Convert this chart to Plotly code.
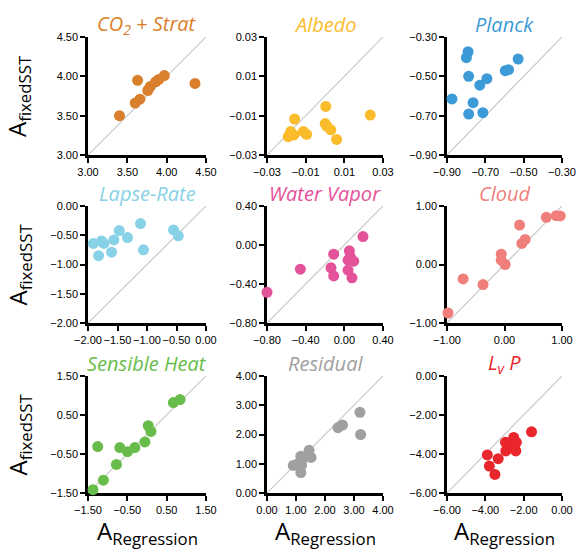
import plotly.graph_objects as go

# ---------------- data ----------------
titles = ["CO<sub>2</sub> + Strat", "Albedo", "Planck",
          "Lapse-Rate", "Water Vapor", "Cloud",
          "Sensible Heat", "Residual", "L<sub>v</sub> P"]
colors = ["#DA7F2C", "#FBBC2C", "#3C9BD6",
          "#87D2E6", "#E4529A", "#F07F7C",
          "#68BD4A", "#A0A0A0", "#E8262C"]

co2_x = [3.40, 3.60, 3.66, 3.63, 3.76, 3.79, 3.86, 3.90, 3.97, 4.36]
co2_y = [3.50, 3.66, 3.71, 3.95, 3.82, 3.87, 3.93, 3.96, 4.01, 3.91]

alb_x = [-0.0157, -0.0178, -0.0190, -0.0161, -0.0112, -0.0095, 0.0004, 0.0001, 0.0010, 0.0030, 0.0060, 0.0234]
alb_y = [-0.0117, -0.0181, -0.0207, -0.0198, -0.0181, -0.0195, -0.0053, -0.0140, -0.0155, -0.0172, -0.0221, -0.0097]

pl_x = [-0.874, -0.790, -0.799, -0.787, -0.764, -0.787, -0.729, -0.692, -0.713, -0.596, -0.579, -0.529]
pl_y = [-0.615, -0.375, -0.405, -0.500, -0.634, -0.692, -0.545, -0.512, -0.685, -0.471, -0.466, -0.412]

lr_x = [-1.91, -1.82, -1.77, -1.73, -1.60, -1.56, -1.47, -1.33, -1.11, -1.06, -0.55, -0.47]
lr_y = [-0.64, -0.85, -0.60, -0.64, -0.79, -0.58, -0.42, -0.54, -0.30, -0.75, -0.41, -0.51]

wv_x = [-0.80, -0.455, -0.138, -0.110, -0.110, 0.052, 0.038, 0.097, 0.038, 0.079, 0.193, 0.062]
wv_y = [-0.485, -0.248, -0.234, -0.317, -0.094, -0.060, -0.156, -0.166, -0.258, -0.337, 0.086, -0.121]

cl_x = [-0.983, -0.72, -0.373, -0.057, -0.057, 0.011, 0.262, 0.302, 0.359, 0.727, 0.898, 0.97]
cl_y = [-0.829, -0.246, -0.343, 0.177, 0.074, 0.0, 0.674, 0.36, 0.429, 0.806, 0.834, 0.83]

sh_x = [-1.372, -1.109, -1.253, -0.777, -0.691, -0.496, -0.309, -0.053, 0.032, 0.10, 0.67, 0.84]
sh_y = [-1.414, -1.172, -0.31, -0.767, -0.336, -0.44, -0.336, -0.19, 0.224, 0.078, 0.819, 0.897]

res_x = [0.906, 1.166, 1.19, 1.223, 1.166, 1.45, 1.518, 1.06, 2.446, 2.605, 3.205, 3.228]
res_y = [0.944, 1.257, 0.944, 1.15, 0.70, 1.46, 1.215, 1.0, 2.235, 2.324, 2.76, 2.0]

lvp_x = [-3.897, -3.79, -3.50, -3.33, -2.93, -2.95, -2.72, -2.52, -2.41, -2.38, -1.59]
lvp_y = [-4.05, -4.62, -5.05, -4.24, -3.84, -3.40, -3.49, -3.15, -3.84, -3.40, -2.86]

xs = [co2_x, alb_x, pl_x, lr_x, wv_x, cl_x, sh_x, res_x, lvp_x]
ys = [co2_y, alb_y, pl_y, lr_y, wv_y, cl_y, sh_y, res_y, lvp_y]

ticks = [
    [3.00, 3.50, 4.00, 4.50],
    [-0.03, -0.01, 0.01, 0.03],
    [-0.90, -0.70, -0.50, -0.30],
    [-2.00, -1.50, -1.00, -0.50, 0.00],
    [-0.80, -0.40, 0.00, 0.40],
    [-1.00, 0.00, 1.00],
    [-1.50, -0.50, 0.50, 1.50],
    [0.00, 1.00, 2.00, 3.00, 4.00],
    [-6.00, -4.00, -2.00, 0.00],
]
yticks = ticks

ylabel = "A<sub>fixedSST</sub>"
xlabel = "A<sub>Regression</sub>"

# ---------------- layout ----------------
W, H = 576, 549
col_px = [(88, 206), (267, 383), (447, 562)]
row_px = [(37, 155), (206, 323), (376, 493)]

fig = go.Figure()
layout = dict(width=W, height=H, margin=dict(l=0, r=0, t=0, b=0, autoexpand=False),
              plot_bgcolor="white", paper_bgcolor="white", showlegend=False)
annotations = []
tickfont = dict(family="Liberation Sans, Arial, sans-serif", size=11, color="black")

for i in range(9):
    r, c = divmod(i, 3)
    n = i + 1
    xa = "xaxis" if n == 1 else f"xaxis{n}"
    ya = "yaxis" if n == 1 else f"yaxis{n}"
    xr = "x" if n == 1 else f"x{n}"
    yr = "y" if n == 1 else f"y{n}"
    x0, x1 = col_px[c]
    y0, y1 = row_px[r]
    xt, yt = ticks[i], yticks[i]
    axcommon = dict(showgrid=False, zeroline=False, showline=True, linecolor="black",
                    linewidth=2.5, ticks="outside", ticklen=5, tickwidth=2,
                    tickcolor="black", tickfont=tickfont, layer="below traces",
                    tickformat=".2f", tickangle=0, automargin=False)
    layout[xa] = dict(axcommon, domain=[x0 / W, x1 / W], range=[xt[0], xt[-1]],
                      tickvals=xt, anchor=yr)
    layout[ya] = dict(axcommon, domain=[1 - y1 / H, 1 - y0 / H], range=[yt[0], yt[-1]],
                      tickvals=yt, anchor=xr)
    # 1:1 line
    fig.add_trace(go.Scatter(x=[xt[0], xt[-1]], y=[yt[0], yt[-1]], mode="lines",
                             line=dict(color="#C8C8C8", width=1.2), xaxis=xr, yaxis=yr,
                             hoverinfo="skip"))
    fig.add_trace(go.Scatter(x=xs[i], y=ys[i], mode="markers",
                             marker=dict(color=colors[i], size=11, line=dict(width=0)),
                             xaxis=xr, yaxis=yr, cliponaxis=False))
    annotations.append(dict(text=f"<i>{titles[i]}</i>", xref="paper", yref="paper",
                            x=(x0 + x1) / 2 / W, y=1 - (y0 - 13) / H,
                            xanchor="center", yanchor="middle", showarrow=False,
                            font=dict(family="Open Sans, sans-serif", size=20, color=colors[i])))
    if c == 0:
        annotations.append(dict(text=ylabel, xref="paper", yref="paper",
                                x=18 / W, y=1 - (y0 + y1) / 2 / H, textangle=-90,
                                xanchor="center", yanchor="middle", showarrow=False,
                                font=dict(family="Open Sans, sans-serif", size=24, color="black")))
    if r == 2:
        annotations.append(dict(text=xlabel, xref="paper", yref="paper",
                                x=(x0 + x1) / 2 / W, y=1 - 532 / H,
                                xanchor="center", yanchor="middle", showarrow=False,
                                font=dict(family="Open Sans, sans-serif", size=24, color="black")))

layout["annotations"] = annotations
fig.update_layout(**layout)
fig.write_html("out.html", config={"displayModeBar": False},
               post_script="document.body.style.margin='0';document.body.style.padding='0';")
